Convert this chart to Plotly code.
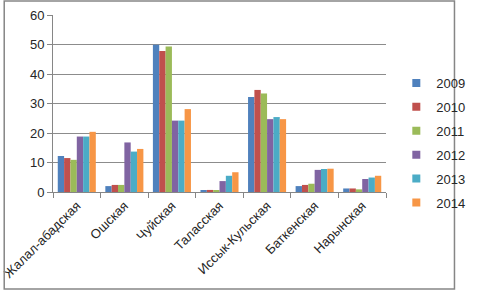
import plotly.graph_objects as go

categories = ["Жалал-абадская", "Ошская", "Чуйская", "Таласская",
              "Иссык-Кульская", "Баткенская", "Нарынская"]
years = ["2009", "2010", "2011", "2012", "2013", "2014"]
v2009 = [12.2, 2.0, 49.9, 0.45, 32.2, 2.0, 1.2]
v2010 = [11.5, 2.4, 47.8, 0.7, 34.6, 2.4, 1.2]
v2011 = [10.9, 2.4, 49.3, 0.45, 33.4, 2.8, 0.9]
v2012 = [18.8, 16.8, 24.2, 3.7, 24.7, 7.5, 4.4]
v2013 = [18.8, 13.7, 24.2, 5.5, 25.4, 7.8, 4.9]
v2014 = [20.4, 14.6, 28.1, 6.7, 24.7, 7.9, 5.5]
series = [v2009, v2010, v2011, v2012, v2013, v2014]
colors = ["#4F81BD", "#C0504D", "#9BBB59", "#8064A2", "#4BACC6", "#F79646"]

fig = go.Figure()
for name, vals, c in zip(years, series, colors):
    fig.add_trace(go.Bar(x=categories, y=vals, name=name, marker_color=c,
                         marker_line_width=0, showlegend=False))
for i, (name, c) in enumerate(zip(years, colors)):
    fig.add_trace(go.Scatter(x=[None], y=[None], mode="markers", name=name,
                             legendgroup=name,
                             marker=dict(symbol="square", size=8, color=c)))

W, H = 482, 290
L, R, T, B = 53, 74, 15, 98
pw, ph = W - L - R, H - T - B

fig.update_layout(
    width=W, height=H, autosize=False,
    margin=dict(l=L, r=R, t=T, b=B),
    paper_bgcolor="white", plot_bgcolor="white",
    font=dict(family="Liberation Sans, Arial, sans-serif", size=12, color="#262626"),
    barmode="group", bargap=0.2, bargroupgap=0,
    legend=dict(x=(419 - L) / pw, xanchor="left", y=(T + ph - 68) / ph, yanchor="top",
                font=dict(size=13), itemwidth=30, tracegroupgap=4,
                bgcolor="rgba(0,0,0,0)"),
    xaxis=dict(tickangle=-45, showline=True, linecolor="#868686", linewidth=1,
               ticks="outside", tickson="boundaries", ticklen=5, tickcolor="#868686",
               showgrid=False, tickfont=dict(size=13), automargin=False),
    yaxis=dict(range=[0, 60], dtick=10, showline=True, linecolor="#868686", linewidth=1,
               gridcolor="#8C8C8C", gridwidth=1, ticks="outside", ticklen=5,
               tickcolor="#868686", zeroline=False, tickfont=dict(size=13),
               automargin=False),
    shapes=[dict(type="rect", xref="paper", yref="paper",
                 x0=(1 - L) / pw, x1=(W - 1 - L) / pw,
                 y0=(T + ph - (H - 1)) / ph, y1=(T + ph - 1) / ph,
                 line=dict(color="#868686", width=1.5), fillcolor="rgba(0,0,0,0)")],
)
fig.write_html("out.html", config={"displayModeBar": False, "responsive": False},
               post_script="document.body.style.margin='0';document.body.style.overflow='hidden';")
